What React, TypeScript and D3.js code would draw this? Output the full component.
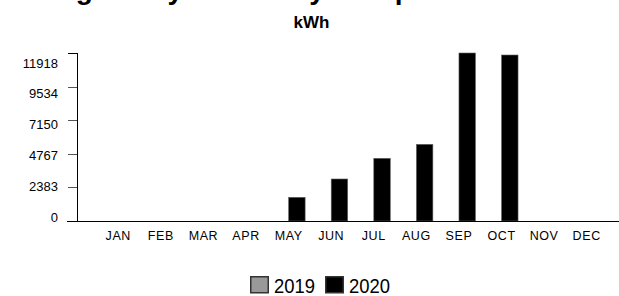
import React from "react"
import * as d3 from "d3"

// chart data
const months = ["JAN", "FEB", "MAR", "APR", "MAY", "JUN", "JUL", "AUG", "SEP", "OCT", "NOV", "DEC"]
const series = ["2019", "2020"]
const values2019 = [0, 0, 0, 0, 0, 0, 0, 0, 0, 0, 0, 0]
const values2020 = [0, 0, 0, 0, 1681, 2980, 4447, 5440, 11918, 11776, 0, 0]
const yTicks = [0, 2383, 4767, 7150, 9534, 11918]
const seriesColors = ["#999999", "#000000"]

const W = 619
const H = 296
const font = "'Liberation Sans', Arial, Helvetica, sans-serif"

const App = () => {
    // scales
    const scaleX = d3.scaleBand<string>().domain(months).range([97, 608])
    const scaleInner = d3.scaleBand<string>().domain(series).range([-16.5, 16.5])
    const scaleY = d3.scaleLinear().domain([0, 11918]).range([221, 53])
    // the labels sit on their own, slightly squeezed spacing
    const scaleLabel = d3.scaleLinear().domain([0, 11918]).range([217, 63])
    const axisX = 77

    const allSeries = [values2019, values2020]

    return (
        <svg width={W} height={H} style={{ position: "absolute", left: 0, top: 0, background: "#fff" }}
            fontFamily={font}>
            {/* title, cut off at the top of the frame */}
            <text x={-1} y={-1} fontSize={28} fontWeight="bold" fill="#000">
                Average Daily Electricity Comparison
            </text>
            <text x={311.5} y={28} fontSize={17} fontWeight="bold" textAnchor="middle" fill="#000">kWh</text>

            {/* bars */}
            {allSeries.map((vals, si) =>
                vals.map((v, i) => v > 0 && (
                    <rect key={`${si}-${i}`}
                        x={scaleX(months[i])! + scaleX.bandwidth() / 2 + scaleInner(series[si])!}
                        y={scaleY(v)}
                        width={scaleInner.bandwidth()}
                        height={scaleY(0) - scaleY(v)}
                        fill={seriesColors[si]}
                        stroke="#666" strokeWidth={0.6} />
                ))
            )}

            {/* y axis */}
            <line x1={axisX + 0.5} x2={axisX + 0.5} y1={scaleY(11918)} y2={scaleY(0)} stroke="#000" />
            {yTicks.map((t, i) => (
                <g key={t}>
                    <line x1={axisX - 9} x2={axisX} y1={Math.round(scaleY(t)) + 0.5} y2={Math.round(scaleY(t)) + 0.5}
                        stroke={i === yTicks.length - 1 ? "#000" : "#555"} />
                    <text x={58} y={scaleLabel(t)} dy="0.36em" fontSize={13} textAnchor="end" fill="#000">{t}</text>
                </g>
            ))}

            {/* x axis */}
            <line x1={axisX - 10} x2={W} y1={scaleY(0) + 0.5} y2={scaleY(0) + 0.5} stroke="#000" />
            {months.map(m => (
                <text key={m} x={scaleX(m)! + scaleX.bandwidth() / 2} y={240} fontSize={12.5}
                    textAnchor="middle" letterSpacing={0.6} fill="#000">{m}</text>
            ))}

            {/* legend */}
            {series.map((s, i) => (
                <g key={s} transform={`translate(${250 + i * 75}, 276)`}>
                    <rect x={0.75} y={0.75} width={17.5} height={16} fill={seriesColors[i]} stroke="#333" strokeWidth={1.5} />
                    <text x={24} y={16.5} fontSize={21} textLength={41} lengthAdjust="spacingAndGlyphs" fill="#000">{s}</text>
                </g>
            ))}
        </svg>
    )
}

export default App
